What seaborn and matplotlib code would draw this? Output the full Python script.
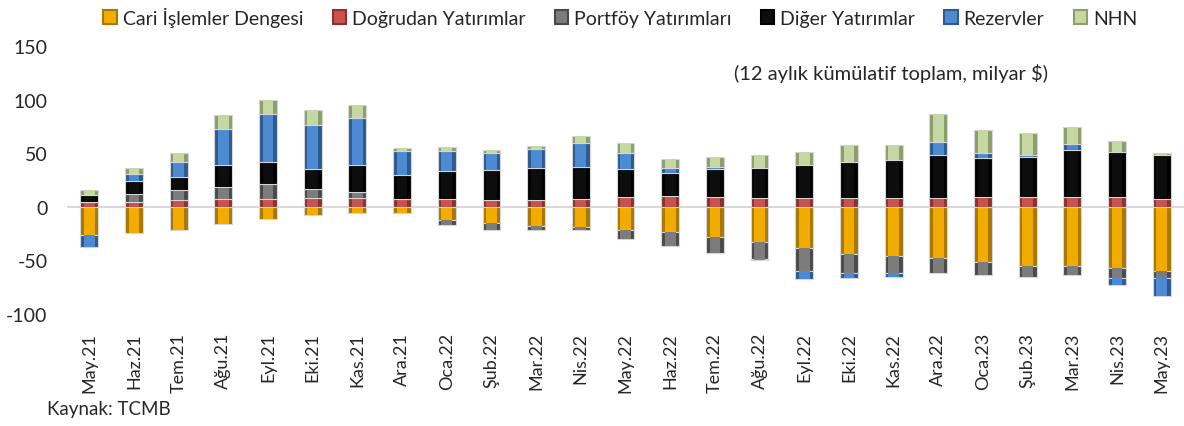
import matplotlib
matplotlib.use("Agg")
import matplotlib.pyplot as plt
import seaborn as sns
import numpy as np

months = ["May.21", "Haz.21", "Tem.21", "Ağu.21", "Eyl.21", "Eki.21", "Kas.21", "Ara.21",
          "Oca.22", "Şub.22", "Mar.22", "Nis.22", "May.22", "Haz.22", "Tem.22", "Ağu.22",
          "Eyl.22", "Eki.22", "Kas.22", "Ara.22", "Oca.23", "Şub.23", "Mar.23", "Nis.23", "May.23"]

cari = [-26, -24, -21.7, -16, -11.5, -7.4, -5.9, -5.9, -12, -15.2, -17.7, -19, -21.4,
        -23.9, -28.2, -32.9, -38.8, -43.7, -45.6, -47.7, -51.8, -55.5, -54.9, -57, -60]
dogrudan = [4, 4.5, 6, 7, 7, 7.8, 7.8, 7, 7, 6.5, 6.2, 7, 9, 9.6, 9, 8, 7.8, 7.8, 8.4,
            8, 8.7, 8.7, 8.7, 8.7, 7]
portfoy = [0, 7, 9.3, 11.8, 14.3, 8.7, 5.9, 0, -5, -6.2, -3.7, -3, -8.4, -13, -14.9,
           -15.8, -20.8, -18, -16.1, -14, -11.8, -10.2, -8.7, -9.3, -6.2]
diger = [7, 12.8, 12.5, 20, 20.8, 18.6, 25.4, 22.6, 26.7, 27.9, 30, 30.4, 26, 22.3, 26,
         27.9, 31.3, 34.4, 35.3, 40.3, 37.2, 38, 44.3, 42.2, 41.2]
rezerv = [-11.5, 6.2, 13.7, 34, 44, 41, 43.4, 22.6, 18.3, 16, 17.4, 21.7, 14.9, 4.3, 1.9,
          -1.2, -7.8, -5, -4, 12.4, 4, 1.5, 5.6, -6.8, -17]
nhn = [4.5, 5.6, 8.7, 12.4, 13.3, 14, 12.4, 2.2, 4, 2.5, 3.1, 6.8, 9.3, 8, 9.9, 12, 11.8,
       15.5, 14, 25.7, 21.7, 20.8, 16, 10.5, 2.2]

series = [
    ("Cari İşlemler Dengesi", cari, "#F2AC00", "#A87800"),
    ("Doğrudan Yatırımlar", dogrudan, "#C9524F", "#8A3330"),
    ("Portföy Yatırımları", portfoy, "#7C7C7C", "#4A4A4A"),
    ("Diğer Yatırımlar", diger, "#0D0D0D", "#000000"),
    ("Rezervler", rezerv, "#4E8AD2", "#2C5A92"),
    ("NHN", nhn, "#C5D7A2", "#8C9E6C"),
]

sns.set_style("white")
plt.rcParams["font.family"] = ["Lato", "DejaVu Sans"]
plt.rcParams["axes.unicode_minus"] = False

fig = plt.figure(figsize=(11.84, 4.27), dpi=100)
ax = fig.add_axes([0.0566, 0.2623, 0.9434, 0.6277])

pos_base = np.zeros(len(months))
neg_base = np.zeros(len(months))
handles = []
for name, vals, col, dark in series:
    v = np.array(vals, dtype=float)
    bottom = np.where(v >= 0, pos_base, neg_base)
    # outer (darker rim) and inner face for a bevelled look
    sns.barplot(x=months, y=v, bottom=bottom, color=dark, width=0.4, ax=ax,
                edgecolor="#D6D6D6", linewidth=0.8, saturation=1)
    sns.barplot(x=months, y=v, bottom=bottom, color=col, width=0.24, ax=ax,
                linewidth=0, saturation=1)
    pos_base = pos_base + np.where(v > 0, v, 0)
    neg_base = neg_base + np.where(v < 0, v, 0)
    handles.append(plt.Rectangle((0, 0), 1, 1, facecolor=col, edgecolor=dark, linewidth=1.5))

ax.axhline(0, color="#D9D9D9", linewidth=1.5, zorder=0)
ax.set_xlim(-0.5, len(months) - 0.5)
ax.set_ylim(-100, 150)
ax.set_yticks([-100, -50, 0, 50, 100, 150])
ax.tick_params(axis="y", length=0, pad=14, labelsize=14)
ax.tick_params(axis="x", length=0, pad=13, labelsize=13, rotation=90)
ax.set_xlabel("")
ax.set_ylabel("")
for s in ax.spines.values():
    s.set_visible(False)

fig.legend(handles, [s[0] for s in series], loc="center", bbox_to_anchor=(0.524, 0.958),
           ncol=6, frameon=False, fontsize=14, handlelength=0.7, handleheight=0.7,
           handletextpad=0.3, columnspacing=1.5)

fig.text(0.7525, 0.829, "(12 aylık kümülatif toplam, milyar $)", ha="center", va="center",
         fontsize=14.5)
fig.text(0.04, 0.04, "Kaynak: TCMB", ha="left", va="center", fontsize=13.5)

fig.savefig("out.png", dpi=100)
